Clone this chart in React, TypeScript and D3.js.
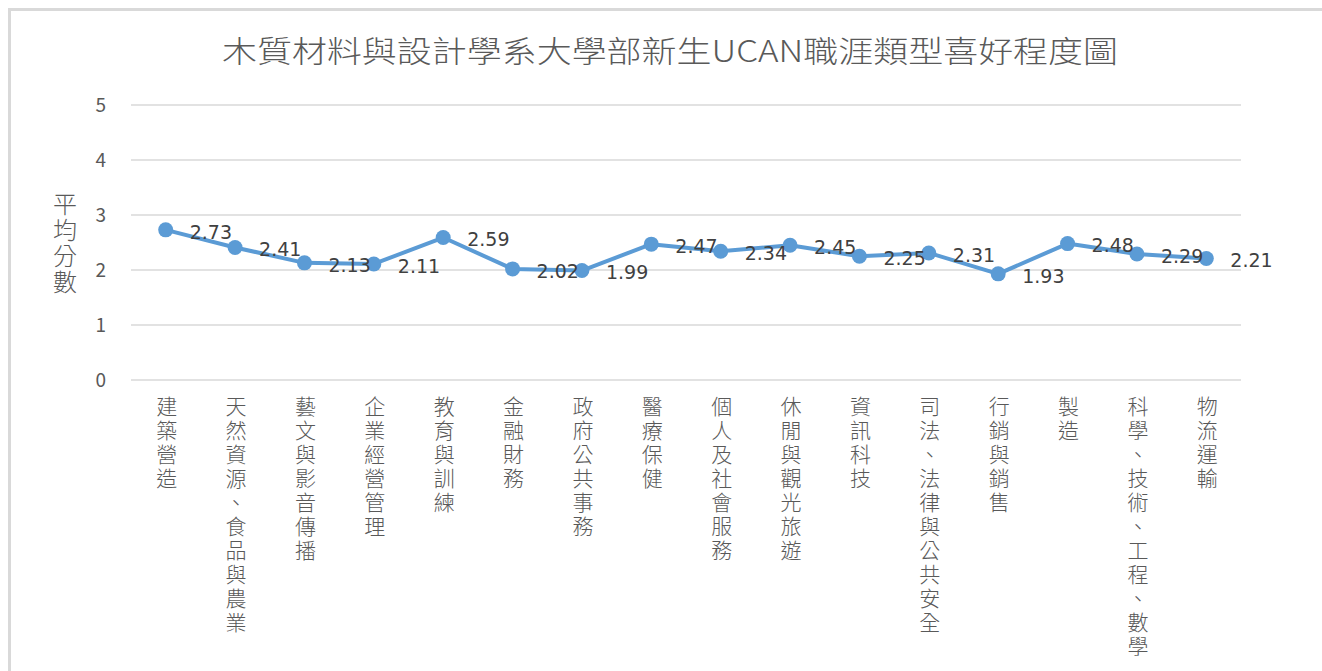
import { useRef, useEffect } from 'react';
import * as d3 from 'd3';

// Chart data
const categories = [
  '建築營造', '天然資源、食品與農業', '藝文與影音傳播', '企業經營管理',
  '教育與訓練', '金融財務', '政府公共事務', '醫療保健',
  '個人及社會服務', '休閒與觀光旅遊', '資訊科技', '司法、法律與公共安全',
  '行銷與銷售', '製造', '科學、技術、工程、數學', '物流運輸',
];
const scores = [2.73, 2.41, 2.13, 2.11, 2.59, 2.02, 1.99, 2.47, 2.34, 2.45, 2.25, 2.31, 1.93, 2.48, 2.29, 2.21];
const yTicks = [0, 1, 2, 3, 4, 5];

const title = '木質材料與設計學系大學部新生UCAN職涯類型喜好程度圖';
const yTitle = '平均分數';

export default function App() {
  const ref = useRef<SVGSVGElement>(null);
  const width = 1322;
  const height = 671;

  useEffect(() => {
    const svg = d3.select(ref.current);
    svg.selectAll('*').remove();

    const font = '"Noto Sans CJK TC", "Noto Sans", sans-serif';
    const axisColor = '#595959';
    const gridColor = '#d9d9d9';
    const lineColor = '#5b9bd5';

    // Scales
    const x = d3.scaleBand<string>().domain(categories).range([131, 1241]);
    const y = d3.scaleLinear().domain([0, 5]).range([380, 105]);
    const cx = (c: string) => (x(c) ?? 0) + x.bandwidth() / 2;

    // Frame
    svg.append('rect')
      .attr('x', 9.5).attr('y', 9.5)
      .attr('width', width).attr('height', height)
      .attr('fill', 'white')
      .attr('stroke', '#d9d9d9')
      .attr('stroke-width', 3);

    // Title
    svg.append('text')
      .attr('x', 222).attr('y', 62)
      .attr('font-family', font)
      .attr('font-size', 30)
      .attr('font-weight', 300)
      .attr('fill', axisColor)
      .attr('textLength', 896)
      .attr('lengthAdjust', 'spacingAndGlyphs')
      .text(title);

    // Gridlines + y tick labels
    const grid = svg.append('g');
    grid.selectAll('line')
      .data(yTicks)
      .join('line')
        .attr('x1', 131).attr('x2', 1241)
        .attr('y1', d => y(d)).attr('y2', d => y(d))
        .attr('stroke', gridColor)
        .attr('stroke-width', 1.5);
    grid.selectAll('text')
      .data(yTicks)
      .join('text')
        .attr('x', 106)
        .attr('y', d => y(d))
        .attr('dy', '0.35em')
        .attr('text-anchor', 'end')
        .attr('font-family', font)
        .attr('font-size', 19)
        .attr('fill', axisColor)
        .text(d => d);

    // Y axis title, vertical
    svg.append('text')
      .attr('x', 65)
      .attr('y', 192)
      .attr('font-family', font)
      .attr('font-size', 24)
      .attr('font-weight', 300)
      .attr('fill', axisColor)
      .style('writing-mode', 'vertical-rl')
      .style('letter-spacing', '2px')
      .text(yTitle);

    // X category labels, vertical
    svg.append('g')
      .attr('font-family', font)
      .attr('font-size', 21)
      .attr('font-weight', 300)
      .attr('fill', axisColor)
      .selectAll('text')
      .data(categories)
      .join('text')
        .attr('x', d => cx(d) + 1)
        .attr('y', 396)
        .style('writing-mode', 'vertical-rl')
        .style('letter-spacing', '3px')
        .text(d => d);

    // Line
    const line = d3.line<number>()
      .x((d, i) => cx(categories[i]))
      .y(d => y(d));
    svg.append('path')
      .datum(scores)
      .attr('d', line)
      .attr('fill', 'none')
      .attr('stroke', lineColor)
      .attr('stroke-width', 4)
      .attr('stroke-linejoin', 'round');

    // Markers
    svg.append('g')
      .selectAll('circle')
      .data(scores)
      .join('circle')
        .attr('cx', (d, i) => cx(categories[i]))
        .attr('cy', d => y(d))
        .attr('r', 7.5)
        .attr('fill', lineColor);

    // Value labels
    svg.append('g')
      .selectAll('text')
      .data(scores)
      .join('text')
        .attr('x', (d, i) => cx(categories[i]) + 24)
        .attr('y', d => y(d) + 2)
        .attr('dy', '0.35em')
        .attr('font-family', '"DejaVu Sans", sans-serif')
        .attr('font-size', 19)
        .attr('fill', '#404040')
        .text(d => d.toFixed(2));
  }, []);

  return (
    <svg
      ref={ref}
      width={width}
      height={height}
      style={{ position: 'absolute', left: 0, top: 0, background: 'white' }}
    />
  );
}
